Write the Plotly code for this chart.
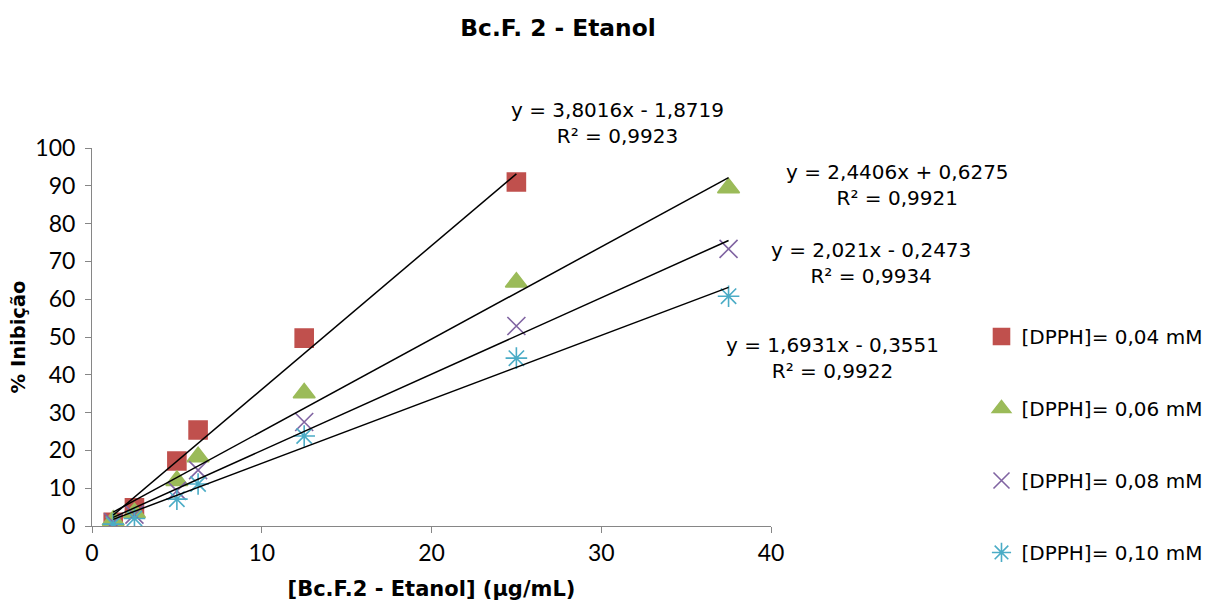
import plotly.graph_objects as go

conc = [1.25, 2.5, 5, 6.25, 12.5, 25, 37.5]
s004 = [1.0, 4.8, 17.2, 25.4, 49.7, 91.0]
s006 = [1.5, 3.5, 12.0, 18.3, 35.2, 64.5, 89.4]
s008 = [1.0, 3.0, 9.3, 14.8, 27.5, 52.9, 73.3]
s010 = [0.5, 2.0, 7.1, 11.1, 23.8, 44.4, 60.8]

names = ["[DPPH]= 0,04 mM", "[DPPH]= 0,06 mM", "[DPPH]= 0,08 mM", "[DPPH]= 0,10 mM"]
slopes = [3.8016, 2.4406, 2.021, 1.6931]
intercepts = [-1.8719, 0.6275, -0.2473, -0.3551]
eq_texts = ["y = 3,8016x - 1,8719<br>R² = 0,9923",
            "y = 2,4406x + 0,6275<br>R² = 0,9921",
            "y = 2,021x - 0,2473<br>R² = 0,9934",
            "y = 1,6931x - 0,3551<br>R² = 0,9922"]

series = [s004, s006, s008, s010]
colors = ["#C0504D", "#9BBB59", "#8064A2", "#4BACC6"]
symbols = ["square", "triangle-up", "x-thin-open", "asterisk-open"]
sizes = [18, 19, 18, 18]

TFONT = "Lato"
SFONT = "DejaVu Sans"
fig = go.Figure()
for i, s in enumerate(series):
    fig.add_trace(go.Scatter(
        x=conc[:len(s)], y=s, mode="markers", name=names[i],
        legendgroup=f"g{i}",
        marker=dict(symbol=symbols[i], size=sizes[i], color=colors[i],
                    line=dict(color=colors[i], width=1.6)),
    ))
for i, s in enumerate(series):
    xs = [conc[0], conc[len(s) - 1]]
    ys = [slopes[i] * x + intercepts[i] for x in xs]
    fig.add_trace(go.Scatter(x=xs, y=ys, mode="lines", showlegend=False,
                             line=dict(color="black", width=1.5), hoverinfo="skip"))

# annotation centres in paper coordinates
eq_pos = [(0.774, 1.066), (1.1856, 0.902), (1.147, 0.696), (1.091, 0.444)]
for t, (ex, ey) in zip(eq_texts, eq_pos):
    fig.add_annotation(x=ex, y=ey, text=t, showarrow=False, xref="paper", yref="paper",
                       xanchor="center", yanchor="middle",
                       font=dict(family=SFONT, size=20, color="black"), align="center")

axis_common = dict(showgrid=False, zeroline=False, showline=True, linecolor="#868686",
                   linewidth=1, ticks="outside", tickcolor="#868686", ticklen=6,
                   tickfont=dict(family=TFONT, size=23, color="black"))
fig.update_xaxes(range=[0, 40], dtick=10, automargin=False, **axis_common,
                 title=dict(text="<b>[Bc.F.2 - Etanol] (µg/mL)</b>",
                            font=dict(family=SFONT, size=21, color="black"), standoff=16))
fig.update_yaxes(range=[0, 100], dtick=10, ticklabelstandoff=5, automargin=False, **axis_common,
                 title=dict(text="<b>% Inibição</b>",
                            font=dict(family=SFONT, size=19.5, color="black"), standoff=4))

fig.update_layout(
    width=1206, height=603,
    margin=dict(l=92, r=435, t=148, b=77, autoexpand=False),
    plot_bgcolor="white", paper_bgcolor="white",
    title=dict(text="<b>Bc.F. 2 - Etanol</b>", x=558 / 1206, xanchor="center",
               y=1 - 28 / 603, yanchor="middle",
               font=dict(family=SFONT, size=23.3, color="black")),
    legend=dict(x=1.31, y=0.553, xanchor="left", yanchor="top",
                font=dict(family=SFONT, size=20, color="black"),
                tracegroupgap=43, itemwidth=30, bgcolor="rgba(0,0,0,0)"),
    showlegend=True,
)
fig.write_html("out.html")
